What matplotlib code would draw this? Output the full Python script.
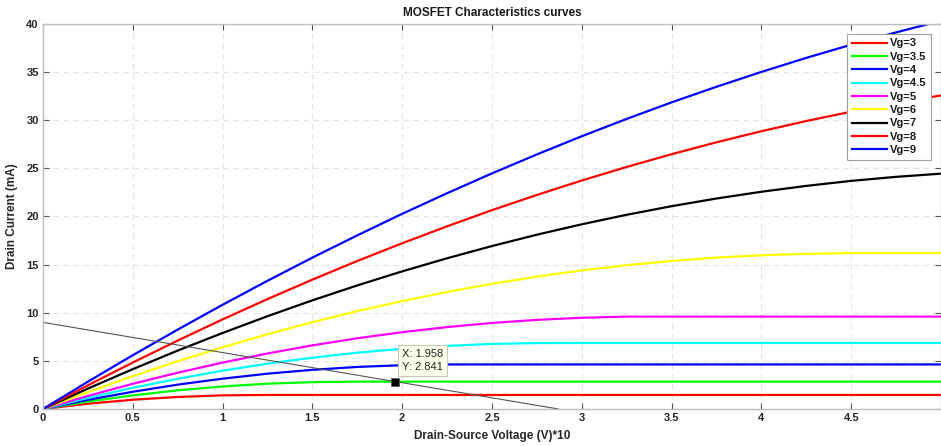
import numpy as np
import matplotlib
matplotlib.use("Agg")
import matplotlib.pyplot as plt

# drain-source voltage samples (V*10)
vds = [0, 0.25, 0.5, 0.75, 1.0, 1.25, 1.5, 1.75, 2.0, 2.25, 2.5,
       2.75, 3.0, 3.25, 3.5, 3.75, 4.0, 4.25, 4.5, 4.75, 5.0]

# drain current (mA)
id_vg3 = [0, 0.55, 0.96, 1.25, 1.42, 1.46, 1.46, 1.46, 1.46, 1.46, 1.46,
          1.46, 1.46, 1.46, 1.46, 1.46, 1.46, 1.46, 1.46, 1.46, 1.46]
id_vg35 = [0, 0.77, 1.41, 1.94, 2.34, 2.63, 2.79, 2.84, 2.84, 2.84, 2.84,
           2.84, 2.84, 2.84, 2.84, 2.84, 2.84, 2.84, 2.84, 2.84, 2.84]
id_vg4 = [0, 0.95, 1.79, 2.53, 3.15, 3.67, 4.07, 4.37, 4.55, 4.63, 4.63,
          4.63, 4.63, 4.63, 4.63, 4.63, 4.63, 4.63, 4.63, 4.63, 4.63]
id_vg45 = [0, 1.15, 2.20, 3.14, 3.98, 4.71, 5.33, 5.85, 6.26, 6.56, 6.76,
           6.85, 6.86, 6.86, 6.86, 6.86, 6.86, 6.86, 6.86, 6.86, 6.86]
id_vg5 = [0, 1.36, 2.62, 3.77, 4.82, 5.77, 6.61, 7.35, 7.98, 8.51, 8.94,
          9.26, 9.48, 9.60, 9.60, 9.60, 9.60, 9.60, 9.60, 9.60, 9.60]
id_vg6 = [0, 1.75, 3.41, 4.96, 6.41, 7.77, 9.02, 10.17, 11.21, 12.16, 13.01,
          13.75, 14.40, 14.94, 15.38, 15.73, 15.97, 16.12, 16.2, 16.2, 16.2]
id_vg7 = [0, 2.12, 4.14, 6.07, 7.90, 9.64, 11.29, 12.84, 14.30, 15.66, 16.93,
          18.11, 19.19, 20.18, 21.07, 21.87, 22.57, 23.18, 23.70, 24.12, 24.45]
id_vg8 = [0, 2.46, 4.83, 7.11, 9.31, 11.42, 13.44, 15.38, 17.22, 18.98, 20.66,
          22.24, 23.74, 25.15, 26.47, 27.71, 28.86, 29.92, 30.89, 31.78, 32.58]
id_vg9 = [0, 2.84, 5.59, 8.25, 10.83, 13.32, 15.73, 18.04, 20.28, 22.42, 24.48,
          26.45, 28.34, 30.14, 31.86, 33.48, 35.02, 36.48, 37.85, 39.13, 40.33]

curves = [id_vg3, id_vg35, id_vg4, id_vg45, id_vg5, id_vg6, id_vg7, id_vg8, id_vg9]
labels = ["Vg=3", "Vg=3.5", "Vg=4", "Vg=4.5", "Vg=5", "Vg=6", "Vg=7", "Vg=8", "Vg=9"]
colors = ["#ff0000", "#00ff00", "#0000ff", "#00ffff", "#ff00ff",
          "#ffff00", "#000000", "#ff0000", "#0000ff"]

# load line and data tip
load_vds = [0, 2.87]
load_id = [9, 0]
tip_x = 1.958
tip_y = 2.841

xticks = [0, 0.5, 1, 1.5, 2, 2.5, 3, 3.5, 4, 4.5]
yticks = [0, 5, 10, 15, 20, 25, 30, 35, 40]

plt.rcParams['font.family'] = ['Liberation Sans', 'DejaVu Sans']

fig = plt.figure(figsize=(9.41, 4.46), dpi=100)
ax = fig.add_axes([43/941, 37/446, 898/941, 385/446])

for yv, lab, c in zip(curves, labels, colors):
    ax.plot(vds, yv, color=c, lw=1.6, label=lab)

ax.plot(load_vds, load_id, color="#555555", lw=0.8)
ax.plot([tip_x], [tip_y], marker="s", ms=6, color="black", mec="#555555", mew=0.6, ls="none")
ax.annotate("X: %.3f\nY: %.3f" % (tip_x, tip_y), xy=(tip_x, tip_y),
            xytext=(7, 10), textcoords="offset pixels", ha="left", va="bottom",
            fontsize=8, color="#222222", linespacing=1.35,
            bbox=dict(boxstyle="square,pad=0.35", fc="#ffffee", ec="#c8c8b4", lw=0.8))

ax.set_xlim(0, 5)
ax.set_ylim(0, 40)
ax.set_xticks(xticks)
ax.set_xticklabels([("%g" % t) for t in xticks])
ax.set_yticks(yticks)
ax.grid(True, ls=(0, (5, 4)), color="#e3e3e3", lw=0.8)
ax.tick_params(direction="in", top=True, right=True, length=4, width=0.8,
               color="#555555", labelsize=8, labelcolor="#262626", pad=3)
for lab in ax.get_xticklabels() + ax.get_yticklabels():
    lab.set_fontweight("bold")
for s in ax.spines.values():
    s.set_color("#bdbdbd")
    s.set_linewidth(1.0)

ax.set_title("MOSFET Characteristics curves", fontsize=8.5, fontweight="bold",
             color="#1a1a1a", pad=6)
ax.set_xlabel("Drain-Source Voltage (V)*10", fontsize=8.5, fontweight="bold",
              color="#262626", labelpad=5)
ax.set_ylabel("Drain Current (mA)", fontsize=8.5, fontweight="bold",
              color="#262626", labelpad=6)

leg = ax.legend(loc="upper right", bbox_to_anchor=(0.989, 0.974), borderaxespad=0,
                prop={"weight": "bold", "size": 8}, fancybox=False,
                framealpha=1, edgecolor="#a0a0a0", handlelength=3.2,
                handletextpad=0.25, labelspacing=0.3, borderpad=0.4)
leg.get_frame().set_linewidth(0.8)
for t in leg.get_texts():
    t.set_color("#1a1a1a")

fig.savefig("out.png", dpi=100)
